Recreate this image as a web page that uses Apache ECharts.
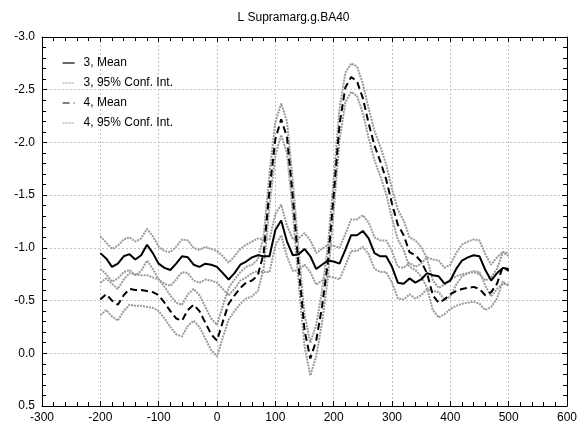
<!DOCTYPE html>
<html>
<head>
<meta charset="utf-8">
<script src="https://cdn.jsdelivr.net/npm/echarts@6/dist/echarts.min.js"></script>
<style>
  html, body { margin: 0; padding: 0; background: #fff; }
  #chart { width: 587px; height: 429px; }
</style>
</head>
<body>
<div id="chart"></div>
<script>
// time points (ms)
const times = [-200, -190, -180, -170, -160, -150, -140, -130, -120, -110, -100, -90, -80, -70, -60, -50, -40, -30, -20, -10,
  0, 10, 20, 30, 40, 50, 60, 70, 80, 90, 100, 110, 120, 130, 140, 150, 160, 170, 180, 190,
  200, 210, 220, 230, 240, 250, 260, 270, 280, 290, 300, 310, 320, 330, 340, 350, 360, 370, 380, 390,
  400, 410, 420, 430, 440, 450, 460, 470, 480, 490, 500];

// group 3
const mean3 = [-0.95, -0.90, -0.82, -0.85, -0.92, -0.94, -0.89, -0.93, -1.03, -0.95, -0.85, -0.81, -0.79, -0.85, -0.92, -0.91, -0.84, -0.82, -0.85, -0.84,
  -0.82, -0.76, -0.70, -0.76, -0.84, -0.87, -0.91, -0.93, -0.92, -0.92, -1.17, -1.26, -1.06, -0.93, -0.94, -0.99, -0.92, -0.80, -0.84, -0.88,
  -0.87, -0.85, -0.98, -1.12, -1.12, -1.16, -1.09, -0.95, -0.92, -0.92, -0.82, -0.67, -0.66, -0.71, -0.67, -0.70, -0.76, -0.74, -0.73, -0.66,
  -0.69, -0.80, -0.88, -0.91, -0.93, -0.92, -0.79, -0.69, -0.76, -0.81, -0.80];
const ciHigh3 = [-1.11, -1.05, -0.99, -1.02, -1.08, -1.10, -1.06, -1.09, -1.18, -1.11, -1.01, -0.97, -0.96, -1.01, -1.08, -1.07, -1.00, -0.98, -1.01, -0.99,
  -0.97, -0.92, -0.86, -0.92, -0.99, -1.03, -1.06, -1.09, -1.08, -1.08, -1.32, -1.41, -1.21, -1.08, -1.09, -1.14, -1.07, -0.95, -0.99, -1.03,
  -1.02, -1.00, -1.13, -1.27, -1.27, -1.31, -1.24, -1.10, -1.07, -1.07, -0.97, -0.82, -0.81, -0.86, -0.82, -0.85, -0.91, -0.89, -0.88, -0.81,
  -0.84, -0.95, -1.03, -1.06, -1.08, -1.07, -0.94, -0.84, -0.91, -0.96, -0.95];
const ciLow3 = [-0.80, -0.75, -0.68, -0.71, -0.77, -0.79, -0.74, -0.78, -0.88, -0.80, -0.70, -0.66, -0.64, -0.70, -0.77, -0.76, -0.69, -0.67, -0.70, -0.69,
  -0.67, -0.61, -0.55, -0.61, -0.69, -0.72, -0.76, -0.78, -0.77, -0.77, -1.02, -1.12, -0.92, -0.78, -0.79, -0.84, -0.77, -0.65, -0.69, -0.73,
  -0.72, -0.70, -0.83, -0.97, -0.97, -1.01, -0.94, -0.80, -0.77, -0.77, -0.67, -0.52, -0.51, -0.56, -0.52, -0.55, -0.61, -0.59, -0.58, -0.51,
  -0.54, -0.65, -0.73, -0.76, -0.78, -0.77, -0.64, -0.54, -0.61, -0.66, -0.65];

// group 4
const mean4 = [-0.51, -0.56, -0.50, -0.46, -0.55, -0.61, -0.60, -0.60, -0.59, -0.58, -0.55, -0.48, -0.40, -0.33, -0.31, -0.41, -0.46, -0.40, -0.29, -0.18,
  -0.12, -0.30, -0.47, -0.55, -0.62, -0.67, -0.69, -0.74, -0.95, -1.55, -2.03, -2.22, -2.05, -1.48, -0.82, -0.22, 0.05, -0.12, -0.44, -0.86,
  -1.50, -2.17, -2.52, -2.62, -2.58, -2.42, -2.18, -1.97, -1.82, -1.65, -1.42, -1.22, -1.12, -0.96, -0.93, -0.87, -0.76, -0.55, -0.48, -0.51,
  -0.56, -0.59, -0.61, -0.62, -0.63, -0.61, -0.55, -0.58, -0.66, -0.82, -0.78];
const ciHigh4 = [-0.67, -0.71, -0.66, -0.61, -0.70, -0.76, -0.75, -0.74, -0.74, -0.72, -0.70, -0.63, -0.55, -0.48, -0.46, -0.56, -0.61, -0.55, -0.44, -0.33,
  -0.27, -0.45, -0.62, -0.70, -0.77, -0.82, -0.84, -0.89, -1.11, -1.71, -2.19, -2.37, -2.20, -1.63, -0.97, -0.37, -0.10, -0.27, -0.59, -1.01,
  -1.65, -2.32, -2.66, -2.75, -2.72, -2.56, -2.32, -2.11, -1.96, -1.79, -1.56, -1.36, -1.26, -1.10, -1.07, -1.01, -0.90, -0.69, -0.62, -0.65,
  -0.70, -0.73, -0.75, -0.76, -0.77, -0.75, -0.69, -0.72, -0.80, -0.96, -0.92];
const ciLow4 = [-0.36, -0.41, -0.35, -0.31, -0.40, -0.46, -0.45, -0.45, -0.44, -0.43, -0.40, -0.33, -0.25, -0.18, -0.16, -0.26, -0.31, -0.25, -0.14, -0.03,
  0.03, -0.15, -0.32, -0.40, -0.47, -0.52, -0.54, -0.59, -0.80, -1.40, -1.88, -2.07, -1.90, -1.33, -0.67, -0.07, 0.21, 0.03, -0.29, -0.71,
  -1.35, -2.02, -2.38, -2.48, -2.44, -2.28, -2.04, -1.83, -1.68, -1.51, -1.28, -1.08, -0.98, -0.82, -0.79, -0.73, -0.62, -0.41, -0.34, -0.37,
  -0.42, -0.45, -0.47, -0.48, -0.49, -0.47, -0.41, -0.44, -0.52, -0.68, -0.64];

const FONT = '"Liberation Sans", Arial, sans-serif';
const pairs = vals => times.map((t, i) => [t, vals[i]]);

function meanSeries(name, vals, dash) {
  return {
    type: 'line', name, data: pairs(vals), symbol: 'none', z: 4,
    lineStyle: { color: '#000', width: 2, type: dash ? [7, 4] : 'solid' },
    itemStyle: { color: '#000' }
  };
}
function ciSeries(name, vals) {
  return {
    type: 'line', name, data: pairs(vals), symbol: 'none', z: 3,
    lineStyle: { color: '#9a9a9a', width: 2, type: [2, 1] },
    itemStyle: { color: '#9a9a9a' }
  };
}

const chart = echarts.init(document.getElementById('chart'));
const tickAxis = {
  axisLine: { show: true, onZero: false, lineStyle: { color: '#000', width: 1 } },
  axisTick: { show: true, inside: true, length: 5, lineStyle: { color: '#000', width: 1 } },
  minorTick: { show: true, splitNumber: 5, length: 4, lineStyle: { color: '#000', width: 1 } }
};

chart.setOption({
  animation: false,
  title: {
    text: 'L Supramarg.g.BA40', left: 'center', top: 7,
    textStyle: { fontFamily: FONT, fontSize: 12, fontWeight: 'normal', color: '#000' }
  },
  legend: {
    data: ['3, Mean', '3, 95% Conf. Int.', '4, Mean', '4, 95% Conf. Int.'],
    orient: 'vertical', left: 62, top: 57, padding: 0,
    itemWidth: 12, itemHeight: 14, itemGap: 8,
    itemStyle: { opacity: 0 },
    lineStyle: { width: 1.2 },
    textStyle: { fontFamily: FONT, fontSize: 12, color: '#000', padding: [0, 0, 0, 4] }
  },
  grid: { left: 42, right: 20, top: 37, bottom: 23, containLabel: false },
  xAxis: [
    Object.assign({
      type: 'value', min: -300, max: 600, interval: 100,
      axisLabel: { fontFamily: FONT, fontSize: 12, color: '#000', margin: 6 },
      splitLine: { show: true, lineStyle: { color: '#c4c4c4', type: [2, 2], width: 1 } }
    }, tickAxis),
    Object.assign({
      type: 'value', min: -300, max: 600, interval: 100, position: 'top',
      axisLabel: { show: false }, splitLine: { show: false }
    }, tickAxis)
  ],
  yAxis: [
    Object.assign({
      type: 'value', inverse: true, min: -3, max: 0.5, interval: 0.5,
      axisLabel: { fontFamily: FONT, fontSize: 12, color: '#000', margin: 7, formatter: v => v.toFixed(1) },
      splitLine: { show: true, lineStyle: { color: '#c4c4c4', type: [2, 2], width: 1 } }
    }, tickAxis),
    Object.assign({
      type: 'value', inverse: true, min: -3, max: 0.5, interval: 0.5, position: 'right',
      axisLabel: { show: false }, splitLine: { show: false }
    }, tickAxis)
  ],
  series: [
    meanSeries('3, Mean', mean3, false),
    ciSeries('3, 95% Conf. Int.', ciHigh3),
    ciSeries('3, 95% Conf. Int.', ciLow3),
    meanSeries('4, Mean', mean4, true),
    ciSeries('4, 95% Conf. Int.', ciHigh4),
    ciSeries('4, 95% Conf. Int.', ciLow4)
  ]
});
</script>
</body>
</html>
